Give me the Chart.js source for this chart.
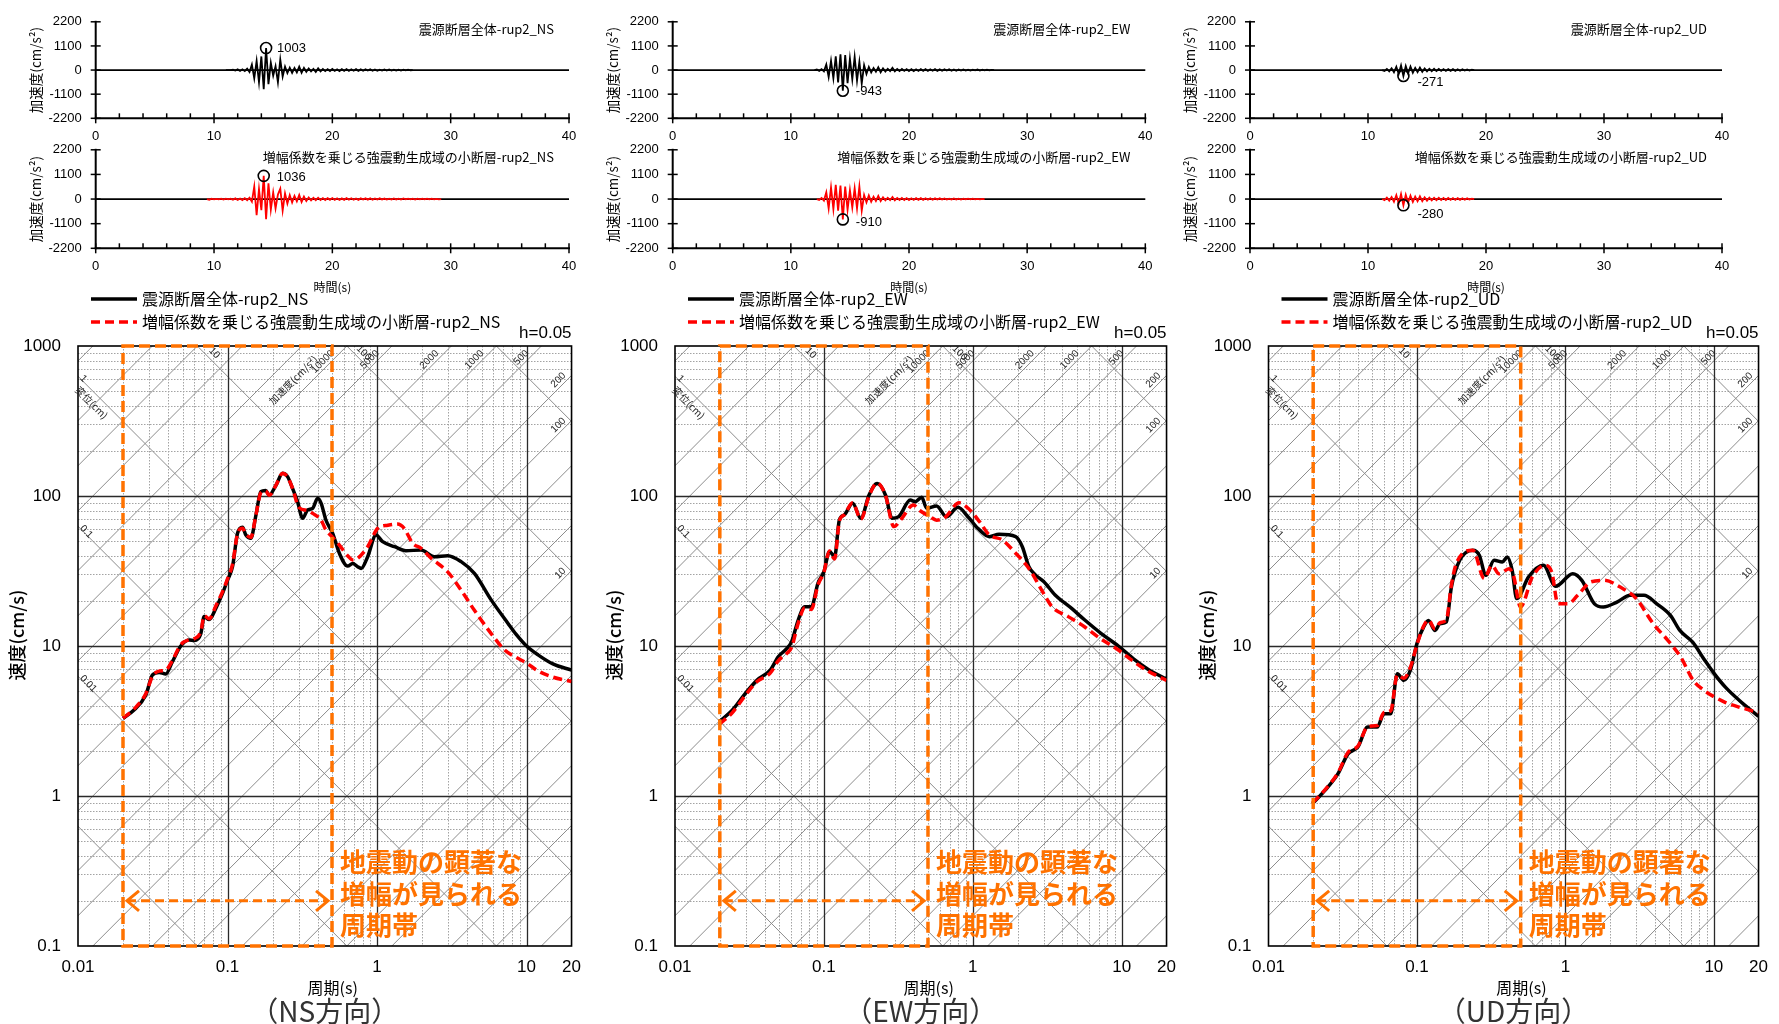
<!DOCTYPE html>
<html>
<head>
<meta charset="utf-8">
<script src="https://cdn.jsdelivr.net/npm/chart.js"></script>
<style>
body { margin: 0; background: #fff; width: 1779px; height: 1024px; overflow: hidden; position: relative; }
canvas { position: absolute; }
</style>
</head>
<body>
<canvas id="accNS1"></canvas>
<canvas id="accNS2"></canvas>
<canvas id="accEW1"></canvas>
<canvas id="accEW2"></canvas>
<canvas id="accUD1"></canvas>
<canvas id="accUD2"></canvas>
<canvas id="spNS"></canvas>
<canvas id="spEW"></canvas>
<canvas id="spUD"></canvas>
<script>
// ---- acceleration time histories (cm/s2), one value every 0.2 s ----
const dt = 0.2;
const accTicks = [-2200, -1100, 0, 1100, 2200];
const timeTicks = [0, 10, 20, 30, 40];

const accNS1Start = 11.0;
const accNS1 = [0,0,0,20,-25,30,-40,35,-50,60,-90,250,-380,420,-560,620,-870,1003,-640,330,
  -260,180,-560,480,-300,160,-140,110,-130,90,-110,150,-120,100,-80,70,-60,50,-90,80,
  -60,45,-50,40,-45,50,-40,35,-45,40,-35,45,-40,35,-30,40,-35,30,-35,30,
  -25,35,-30,25,-30,20,-25,30,-20,25,-20,20,-25,15,-20,20,-15,15,-10,0];
const accNS2Start = 9.4;
const accNS2 = [0,-30,20,-15,10,-10,15,-20,15,-10,20,-35,30,-40,25,-45,40,-50,60,-120,
  560,-720,450,-500,1036,-900,700,-480,300,-420,200,460,-520,250,-200,180,-150,140,-100,180,
  -130,110,-90,70,-60,55,-50,60,-45,40,-45,40,-35,45,-40,35,-40,30,-35,40,
  -30,35,-30,25,-35,30,-25,30,-25,35,-30,25,-20,30,-25,20,-25,20,-20,25,
  -20,15,-20,25,-15,20,-15,15,-20,15,-10,15,-10,20,-10,15,-10,10,-10,0];
const accEW1Start = 12.0;
const accEW1 = [0,25,-35,40,-60,250,-320,420,-380,620,-560,720,-943,680,-600,
  520,-420,600,-480,380,-620,220,-180,140,-110,90,-80,130,-100,80,-70,60,-50,100,-60,
  50,-45,55,-40,45,-50,40,-45,35,-40,45,-35,40,-40,35,-30,40,-35,30,-35,
  30,-25,35,-30,25,-30,25,-20,30,-25,20,-25,20,-15,25,-20,15,-15,20,-15,10,0];
const accEW2Start = 12.2;
const accEW2 = [0,-40,50,-70,300,-420,520,-450,640,-520,600,-910,560,-480,
  400,-380,480,-420,560,-520,180,-150,160,-120,100,-90,140,-90,80,-60,60,-50,90,-55,
  50,-40,50,-45,40,-45,35,-40,40,-35,40,-35,35,-30,35,-30,30,-25,30,-25,
  25,-25,20,-20,25,-20,15,-20,15,-15,15,-10,15,-10,10,-10,10,0];
const accUD1Start = 11.2;
const accUD1 = [0,-40,50,-60,80,-100,150,-180,210,-271,180,-150,160,-120,100,-90,110,-80,70,-60,
  60,-50,55,-45,50,-40,45,-40,40,-35,40,-35,35,-30,30,-25,25,-20,15,0];
const accUD2Start = 11.2;
const accUD2 = [0,-50,60,-70,90,-120,170,-200,220,-280,190,-160,150,-130,110,-100,120,-90,80,-70,
  65,-55,60,-50,55,-45,50,-45,45,-40,45,-40,40,-35,35,-30,30,-25,20,0];

// peak markers: [time, value]
const peakNS1 = [14.4, 1003];
const peakNS2 = [14.2, 1036];
const peakEW1 = [14.4, -943];
const peakEW2 = [14.4, -910];
const peakUD1 = [13.0, -271];
const peakUD2 = [13.0, -280];

// ---- pseudo velocity response spectra, h=0.05 ----
const periodTicks = [0.01, 0.1, 1, 10, 20];
const velTicks = [0.1, 1, 10, 100, 1000];
const bandPeriods = [0.02, 0.5];
const arrowVel = 0.2;

const nsAllT = [0.02,0.0237,0.0284,0.0315,0.0349,0.0386,0.0428,0.0487,0.0554,0.06,0.0663,0.0698,0.0754,0.0835,0.0926,0.1,0.108,0.1167,0.126,0.1327,0.1433,0.155,0.167,0.18,0.19,0.211,0.2335,0.252,0.272,0.294,0.318,0.343,0.371,0.401,0.423,0.455,0.505,0.56,0.636,0.687,0.742,0.783,0.866,0.985,1.09,1.31,1.56,1.97,2.42,2.97,3.65,4.48,5.8,7.5,8.5,10,12,15,20];
const nsAllV = [3.3,3.74,4.71,6.41,6.67,6.5,7.86,10,10.96,10.9,12.1,15.7,15,17.8,22.4,27.5,33.8,56.4,61.8,54.9,52.2,74.7,106.9,109,101.5,118,141.6,134.6,112.5,91.7,71,80.7,82.8,96.5,89.4,69.2,56.4,41.5,34.1,35.5,33.8,32.9,39.4,54.9,49.6,45.9,43.2,43.6,39.4,40,36.5,30.5,20.3,14.2,12,10,8.7,7.6,6.9];
const nsSubT = [0.02,0.0237,0.0284,0.0315,0.0349,0.0386,0.0428,0.0487,0.0554,0.06,0.0663,0.0698,0.0754,0.0835,0.0926,0.1,0.108,0.1167,0.126,0.1327,0.1433,0.155,0.167,0.18,0.19,0.211,0.2335,0.252,0.272,0.3,0.343,0.371,0.422,0.455,0.5,0.56,0.636,0.687,0.742,0.866,1.01,1.18,1.37,1.52,1.73,1.97,2.3,2.97,3.65,4.48,5.8,7.14,8.5,10,12,15,20];
const nsSubV = [3.3,3.8,4.8,6.3,6.8,6.9,8,10.2,11,11.2,12.5,15.9,15.2,18.5,23,28,35,56,61,55.5,53,75,105,108,101,118,142,134,113,84,80,76.6,69.2,59.3,53.6,47,40,37.5,38.4,45.9,60.8,63.8,65,60.8,48.4,44.8,38.5,31.2,23.6,17.3,12.1,9.4,8.4,7.7,6.8,6.2,5.8];

const ewAllT = [0.0198,0.0243,0.0297,0.0356,0.0436,0.0495,0.0562,0.0607,0.0672,0.0744,0.0824,0.0912,0.1,0.109,0.118,0.127,0.137,0.156,0.177,0.201,0.228,0.259,0.287,0.318,0.38,0.41,0.454,0.49,0.571,0.665,0.795,0.927,1.08,1.29,1.5,1.94,2.15,2.38,2.63,2.99,3.57,4.61,5.65,7.29,9.5,12,15,20];
const ewAllV = [3.13,3.74,4.84,5.94,6.9,8.5,9.6,10.7,14.9,18.3,18.3,26.2,31.3,42.6,39.5,69.2,74.7,89.4,71,101.5,121,101.5,71,72.8,94,91.7,98,82.8,85.8,72.8,84,72.8,60.9,53.6,55.5,53.6,45.9,33.8,29.8,26.9,21.9,17.8,14.9,12.1,10,8.2,7,6];
const ewSubT = [0.0198,0.0243,0.0297,0.0356,0.0436,0.0495,0.0562,0.0607,0.0672,0.0744,0.0824,0.0912,0.1,0.109,0.118,0.127,0.137,0.156,0.177,0.201,0.228,0.259,0.295,0.33,0.399,0.44,0.516,0.571,0.65,0.81,0.93,1.11,1.29,1.58,1.94,2.38,2.9,3.4,4.37,5.65,7.1,9.5,12,15,20];
const ewSubV = [3.0,3.6,4.7,5.8,6.6,8.0,8.9,9.8,14.2,18,17.5,25.5,31,43,38,68,75,90,70,100,122,101,62.5,70,87,80,72.8,69,72,90,82.8,67.4,55,50.9,41.5,32.9,23.6,18.3,15.7,13.4,11.3,9.4,7.9,6.8,5.9];

const udAllT = [0.0198,0.024,0.0294,0.0343,0.04,0.0466,0.054,0.06,0.0666,0.0737,0.0816,0.0903,0.1,0.111,0.1195,0.1324,0.143,0.158,0.1706,0.194,0.238,0.263,0.291,0.331,0.376,0.406,0.438,0.47,0.565,0.71,0.86,1.12,1.29,1.57,1.8,2.24,2.73,3.38,4.13,5.1,5.9,7.2,8.5,10,12,15,20];
const udAllV = [0.89,1.09,1.41,1.91,2.12,2.88,2.88,3.54,3.54,6.54,5.9,6.9,10.4,13.4,14.8,12.7,14.1,14.5,24.7,37.3,43.5,40.3,29.6,37.3,36.3,39.2,31.9,20.7,28.9,34.5,25,30.3,27.4,19.1,18.2,19.7,21.8,21.8,19.1,16,12.7,10.6,8.3,6.6,5.3,4.3,3.4];
const udSubT = [0.0198,0.024,0.0294,0.0343,0.04,0.0466,0.054,0.06,0.0666,0.0737,0.0816,0.0903,0.1,0.111,0.1195,0.1324,0.143,0.158,0.1706,0.184,0.238,0.284,0.32,0.357,0.417,0.449,0.498,0.6,0.73,0.81,0.89,1.04,1.21,1.49,1.83,2.34,3.0,3.9,4.9,6.0,7.26,8.5,10,12,15,20];
const udSubV = [0.9,1.1,1.43,1.95,2.15,2.9,2.95,3.6,3.7,6.4,6.1,7.2,10.2,13.6,14.9,13,14.3,15,25.5,35.4,43.5,28.2,34.4,30.3,32.7,29,18.2,29,34.5,31,19.1,19.1,21.8,26.8,27.4,24.7,20.7,14.1,10.9,8.4,5.9,5.1,4.6,4.2,3.9,3.6];

// tripartite grid lines
const accelLines = [0.05,0.1,0.2,0.5,1,2,5,10,20,50,100,200,500,1000,2000,5000,10000,20000,50000,100000,200000,500000];
const dispLines = [0.0001,0.001,0.01,0.1,1,10,100,1000];
const accelTopLabels = [10000, 5000, 2000, 1000, 500];
const accelSideLabels = [200, 100, 10];
const dispTopLabels = [10, 100];
const dispSideLabels = [1, 0.1, 0.01];

const TWO_PI = 2 * Math.PI;
const bandColor = '#ff7200';
const jp = '"Noto Sans CJK JP", sans-serif';
const num = '"Liberation Sans", Arial, sans-serif';
Chart.defaults.font.family = num;
Chart.defaults.color = '#000';

function line(ctx, x1, y1, x2, y2) {
    ctx.beginPath();
    ctx.moveTo(x1, y1);
    ctx.lineTo(x2, y2);
    ctx.stroke();
}

function logSteps(min, max) {
    const out = [];
    for (let e = Math.floor(Math.log10(min)); e <= Math.ceil(Math.log10(max)); e++) {
        for (let m = 1; m <= 9; m++) {
            const v = m * Math.pow(10, e);
            if (v > min * 1.001 && v < max * 0.999) out.push({ v, major: m === 1 });
        }
    }
    return out;
}

function lineLabel(ctx, text, px, py, ang, align, off) {
    ctx.save();
    ctx.translate(px, py);
    ctx.rotate(ang);
    ctx.textAlign = align;
    ctx.textBaseline = 'middle';
    ctx.fillText(text, 0, off);
    ctx.restore();
}

function place(canvas, box) {
    canvas.width = box.width;
    canvas.height = box.height;
    canvas.style.left = box.left + 'px';
    canvas.style.top = box.top + 'px';
}

const pairs = (xs, ys) => xs.map((v, i) => ({ x: v, y: ys[i] }));
const series = (start, vals) => vals.map((v, i) => ({ x: +(start + i * dt).toFixed(2), y: v }));

// ---------------- acceleration charts ----------------
const accDecor = {
    id: 'accDecor',
    beforeDatasetsDraw(chart) {
        const { ctx, chartArea: a, scales: { y } } = chart;
        ctx.save();
        ctx.strokeStyle = '#000';
        ctx.lineWidth = 1.8;
        const y0 = y.getPixelForValue(0);
        line(ctx, a.left, y0, a.right, y0);
        ctx.restore();
    },
    afterDatasetsDraw(chart, args, o) {
        const { ctx, chartArea: a, scales: { x, y } } = chart;
        ctx.save();
        ctx.strokeStyle = '#000';
        ctx.lineWidth = 2;
        line(ctx, a.left, a.top - 1, a.left, a.bottom + 1);
        line(ctx, a.left - 1, a.bottom, a.right + 1, a.bottom);
        ctx.lineWidth = 1.5;
        for (let t = 0; t <= 40; t += 2) {
            const px = x.getPixelForValue(t);
            if (t % 10 === 0) line(ctx, px, a.bottom - 5, px, a.bottom + 5);
            else line(ctx, px, a.bottom - 5, px, a.bottom);
        }
        accTicks.forEach(v => {
            const py = y.getPixelForValue(v);
            line(ctx, a.left - 5, py, a.left + 5, py);
        });

        ctx.fillStyle = '#000';
        ctx.font = '13px ' + jp;
        ctx.textAlign = 'right';
        ctx.textBaseline = 'middle';
        ctx.fillText(o.title, a.right - 15, a.top + 7);

        ctx.font = '13px ' + num;
        ctx.textAlign = 'left';
        const px = x.getPixelForValue(o.peak[0]);
        const py = y.getPixelForValue(o.peak[1]);
        ctx.fillText(String(o.peak[1]), px + o.dx, py + o.dy);

        ctx.save();
        ctx.translate(a.left - 60, (a.top + a.bottom) / 2);
        ctx.rotate(-Math.PI / 2);
        ctx.textAlign = 'center';
        ctx.font = '13.5px ' + jp;
        ctx.fillText('加速度(cm/s²)', 0, 0);
        ctx.restore();

        if (o.xTitle) {
            ctx.textAlign = 'center';
            ctx.font = '12px ' + jp;
            ctx.fillText('時間(s)', (a.left + a.right) / 2, a.bottom + 39);
        }
        ctx.restore();
    }
};

function accChart(id, box, data, color, title, peak, dx, dy, xTitle) {
    const canvas = document.getElementById(id);
    place(canvas, box);
    return new Chart(canvas, {
        type: 'line',
        data: {
            datasets: [
                { data: [{ x: peak[0], y: peak[1] }], showLine: false, pointRadius: 5.5, pointBorderWidth: 1.6,
                  pointBorderColor: '#000', pointBackgroundColor: 'rgba(0,0,0,0)', order: 0 },
                { data: data, borderColor: color, borderWidth: 1.8, pointRadius: 0, order: 1 }
            ]
        },
        options: {
            responsive: false,
            animation: false,
            layout: { padding: { left: 0, top: box.plotTop - box.top, right: box.left + box.width - box.plotRight, bottom: 0 } },
            plugins: { legend: { display: false }, tooltip: { enabled: false },
                accDecor: { title, peak, dx, dy, xTitle } },
            scales: {
                x: {
                    type: 'linear', min: 0, max: 40,
                    afterBuildTicks: s => { s.ticks = timeTicks.map(v => ({ value: v })); },
                    afterFit: s => { s.height = box.top + box.height - box.plotBottom; },
                    ticks: { font: { size: 13 }, padding: 10, maxRotation: 0, autoSkip: false, callback: v => String(v) },
                    grid: { display: false, drawTicks: false },
                    border: { display: false }
                },
                y: {
                    min: -2200, max: 2200,
                    afterBuildTicks: s => { s.ticks = accTicks.map(v => ({ value: v })); },
                    afterFit: s => { s.width = box.plotLeft - box.left; },
                    ticks: { font: { size: 13 }, padding: 14, autoSkip: false, callback: v => String(v) },
                    grid: { display: false, drawTicks: false },
                    border: { display: false }
                }
            }
        },
        plugins: [accDecor]
    });
}

const accCols = [
    { dir: 'NS', left: 0, width: 590, plotLeft: 95.7, plotRight: 569 },
    { dir: 'EW', left: 590, width: 580, plotLeft: 672.7, plotRight: 1145.3 },
    { dir: 'UD', left: 1170, width: 609, plotLeft: 1250, plotRight: 1722 }
];
const topRow = { top: 0, height: 142, plotTop: 15.7, plotBottom: 118.3 };
const botRow = { top: 128, height: 170, plotTop: 145.7, plotBottom: 248.3 };

accChart('accNS1', { ...accCols[0], ...topRow }, series(accNS1Start, accNS1), '#000', '震源断層全体-rup2_NS', peakNS1, 11, 0, false);
accChart('accNS2', { ...accCols[0], ...botRow }, series(accNS2Start, accNS2), '#ff0000', '増幅係数を乗じる強震動生成域の小断層-rup2_NS', peakNS2, 13, 2, true);
accChart('accEW1', { ...accCols[1], ...topRow }, series(accEW1Start, accEW1), '#000', '震源断層全体-rup2_EW', peakEW1, 13, 1, false);
accChart('accEW2', { ...accCols[1], ...botRow }, series(accEW2Start, accEW2), '#ff0000', '増幅係数を乗じる強震動生成域の小断層-rup2_EW', peakEW2, 13, 3, true);
accChart('accUD1', { ...accCols[2], ...topRow }, series(accUD1Start, accUD1), '#000', '震源断層全体-rup2_UD', peakUD1, 14, 6, false);
accChart('accUD2', { ...accCols[2], ...botRow }, series(accUD2Start, accUD2), '#ff0000', '増幅係数を乗じる強震動生成域の小断層-rup2_UD', peakUD2, 14, 9, true);

// ---------------- response spectra ----------------
const spectrumDecor = {
    id: 'spectrumDecor',
    beforeDatasetsDraw(chart) {
        const { ctx, chartArea: a, scales: { x, y } } = chart;
        ctx.save();
        ctx.beginPath();
        ctx.rect(a.left, a.top, a.right - a.left, a.bottom - a.top);
        ctx.clip();

        // minor grid (dotted)
        ctx.lineWidth = 1;
        ctx.strokeStyle = '#a3a3a3';
        ctx.setLineDash([1.5, 1.5]);
        logSteps(0.01, 20).filter(s => !s.major).forEach(s => {
            const px = Math.round(x.getPixelForValue(s.v)) + 0.5;
            line(ctx, px, a.top, px, a.bottom);
        });
        logSteps(0.1, 1000).filter(s => !s.major).forEach(s => {
            const py = Math.round(y.getPixelForValue(s.v)) + 0.5;
            line(ctx, a.left, py, a.right, py);
        });

        // tripartite diagonals
        ctx.setLineDash([]);
        ctx.strokeStyle = '#8c8c8c';
        const t1 = 0.005, t2 = 40;
        accelLines.forEach(A => line(ctx, x.getPixelForValue(t1), y.getPixelForValue(A * t1 / TWO_PI),
            x.getPixelForValue(t2), y.getPixelForValue(A * t2 / TWO_PI)));
        dispLines.forEach(D => line(ctx, x.getPixelForValue(t1), y.getPixelForValue(TWO_PI * D / t1),
            x.getPixelForValue(t2), y.getPixelForValue(TWO_PI * D / t2)));

        // decade lines
        ctx.strokeStyle = '#2a2a2a';
        ctx.lineWidth = 1.3;
        logSteps(0.01, 20).filter(s => s.major).forEach(s => {
            const px = Math.round(x.getPixelForValue(s.v)) + 0.5;
            line(ctx, px, a.top, px, a.bottom);
        });
        logSteps(0.1, 1000).filter(s => s.major).forEach(s => {
            const py = Math.round(y.getPixelForValue(s.v)) + 0.5;
            line(ctx, a.left, py, a.right, py);
        });
        ctx.restore();

        ctx.save();
        ctx.strokeStyle = '#000';
        ctx.lineWidth = 1.6;
        ctx.strokeRect(a.left, a.top, a.right - a.left, a.bottom - a.top);

        // diagonal labels
        const angA = Math.atan2(y.getPixelForValue(10) - y.getPixelForValue(1), x.getPixelForValue(10) - x.getPixelForValue(1));
        const angD = -angA;
        ctx.fillStyle = '#222';
        ctx.font = '10px ' + num;
        accelTopLabels.forEach(A => {
            const py = a.top + 10;
            const px = x.getPixelForValue(y.getValueForPixel(py) * TWO_PI / A);
            lineLabel(ctx, String(A), px, py, angA, 'right', -6);
        });
        accelSideLabels.forEach(A => {
            const px = a.right - 3;
            const py = y.getPixelForValue(A * x.getValueForPixel(px) / TWO_PI);
            lineLabel(ctx, String(A), px, py, angA, 'right', -6);
        });
        dispTopLabels.forEach(D => {
            const py = a.top + 12;
            const px = x.getPixelForValue(TWO_PI * D / y.getValueForPixel(py));
            lineLabel(ctx, String(D), px, py, angD, 'center', -7);
        });
        dispSideLabels.forEach(D => {
            const px = a.left + 2;
            const py = y.getPixelForValue(TWO_PI * D / x.getValueForPixel(px));
            lineLabel(ctx, String(D), px, py, angD, 'left', -2);
        });
        ctx.font = '10px ' + jp;
        {
            const py = a.top + 44;
            const px = x.getPixelForValue(y.getValueForPixel(py) * TWO_PI / 10000);
            lineLabel(ctx, '加速度(cm/s²)', px, py, angA, 'center', -14);
            const qx = a.left + 20;
            const qy = y.getPixelForValue(TWO_PI * 1 / x.getValueForPixel(qx));
            lineLabel(ctx, '変位(cm)', qx, qy, angD, 'center', 9);
        }
        ctx.restore();
    },
    afterDatasetsDraw(chart, args, o) {
        const { ctx, chartArea: a, scales: { x, y } } = chart;
        ctx.save();
        // band of notable amplification
        const bx1 = x.getPixelForValue(bandPeriods[0]);
        const bx2 = x.getPixelForValue(bandPeriods[1]);
        ctx.strokeStyle = bandColor;
        ctx.lineWidth = 3.5;
        ctx.setLineDash([11, 5]);
        ctx.strokeRect(bx1, a.top, bx2 - bx1, a.bottom - a.top);
        const ay = y.getPixelForValue(arrowVel);
        ctx.lineWidth = 3;
        ctx.setLineDash([9, 5]);
        line(ctx, bx1 + 4, ay, bx2 - 4, ay);
        ctx.setLineDash([]);
        ctx.beginPath();
        ctx.moveTo(bx1 + 16, ay - 10); ctx.lineTo(bx1 + 4, ay); ctx.lineTo(bx1 + 16, ay + 10);
        ctx.moveTo(bx2 - 16, ay - 10); ctx.lineTo(bx2 - 4, ay); ctx.lineTo(bx2 - 16, ay + 10);
        ctx.stroke();
        ctx.fillStyle = bandColor;
        ctx.font = 'bold 26px ' + jp;
        ctx.textAlign = 'left';
        ctx.textBaseline = 'middle';
        ctx.fillText('地震動の顕著な', bx2 + 8, a.bottom - 84);
        ctx.fillText('増幅が見られる', bx2 + 8, a.bottom - 52);
        ctx.fillText('周期帯', bx2 + 8, a.bottom - 21);

        // legend
        ctx.fillStyle = '#000';
        ctx.lineWidth = 3.5;
        ctx.strokeStyle = '#000';
        line(ctx, a.left + 13, a.top - 47, a.left + 59, a.top - 47);
        ctx.strokeStyle = '#ff0000';
        ctx.setLineDash([9, 5]);
        line(ctx, a.left + 13, a.top - 24, a.left + 59, a.top - 24);
        ctx.setLineDash([]);
        ctx.font = '16px ' + jp;
        chart.data.datasets.forEach(ds => {
            ctx.fillText(ds.label, a.left + 64, ds.order === 1 ? a.top - 47 : a.top - 24);
        });

        ctx.textAlign = 'right';
        ctx.font = '17px ' + num;
        ctx.fillText('h=0.05', a.right, a.top - 13);

        ctx.textAlign = 'center';
        ctx.font = '16px ' + jp;
        ctx.fillText('周期(s)', (a.left + a.right) / 2 + 8, a.bottom + 42);
        ctx.font = '28px ' + jp;
        ctx.fillStyle = '#333';
        ctx.fillText('（' + o.dir + '方向）', (a.left + a.right) / 2, a.bottom + 65);

        ctx.fillStyle = '#000';
        ctx.translate(a.left - 61, (a.top + a.bottom) / 2 - 11);
        ctx.rotate(-Math.PI / 2);
        ctx.font = '500 18px ' + jp;
        ctx.fillText('速度(cm/s)', 0, 0);
        ctx.restore();
    }
};

function spectrumChart(id, box, dir, allT, allV, subT, subV) {
    const canvas = document.getElementById(id);
    place(canvas, box);
    return new Chart(canvas, {
        type: 'line',
        data: {
            datasets: [
                { label: '増幅係数を乗じる強震動生成域の小断層-rup2_' + dir, data: pairs(subT, subV),
                  borderColor: '#ff0000', borderWidth: 3.5, borderDash: [9, 5], pointRadius: 0,
                  cubicInterpolationMode: 'monotone', order: 0 },
                { label: '震源断層全体-rup2_' + dir, data: pairs(allT, allV),
                  borderColor: '#000', borderWidth: 3.5, pointRadius: 0,
                  cubicInterpolationMode: 'monotone', order: 1 }
            ]
        },
        options: {
            responsive: false,
            animation: false,
            layout: { padding: { left: 0, top: box.plotTop - box.top, right: box.left + box.width - box.plotRight, bottom: 0 } },
            plugins: { legend: { display: false }, tooltip: { enabled: false }, spectrumDecor: { dir } },
            scales: {
                x: {
                    type: 'logarithmic', min: 0.01, max: 20,
                    afterBuildTicks: s => { s.ticks = periodTicks.map(v => ({ value: v })); },
                    afterFit: s => { s.height = box.top + box.height - box.plotBottom; },
                    ticks: { font: { size: 17 }, padding: 11, maxRotation: 0, autoSkip: false, callback: v => String(v) },
                    grid: { display: false, drawTicks: false },
                    border: { display: false }
                },
                y: {
                    type: 'logarithmic', min: 0.1, max: 1000,
                    afterBuildTicks: s => { s.ticks = velTicks.map(v => ({ value: v })); },
                    afterFit: s => { s.width = box.plotLeft - box.left; },
                    ticks: { font: { size: 17 }, padding: 17, autoSkip: false, callback: v => String(v) },
                    grid: { display: false, drawTicks: false },
                    border: { display: false }
                }
            }
        },
        plugins: [spectrumDecor]
    });
}

const spRow = { top: 290, height: 734, plotTop: 346, plotBottom: 946 };
spectrumChart('spNS', { left: 0, width: 592, plotLeft: 78, plotRight: 575, ...spRow }, 'NS', nsAllT, nsAllV, nsSubT, nsSubV);
spectrumChart('spEW', { left: 592, width: 595, plotLeft: 675, plotRight: 1171, ...spRow }, 'EW', ewAllT, ewAllV, ewSubT, ewSubV);
spectrumChart('spUD', { left: 1187, width: 592, plotLeft: 1268.5, plotRight: 1765.5, ...spRow }, 'UD', udAllT, udAllV, udSubT, udSubV);
</script>
</body>
</html>
